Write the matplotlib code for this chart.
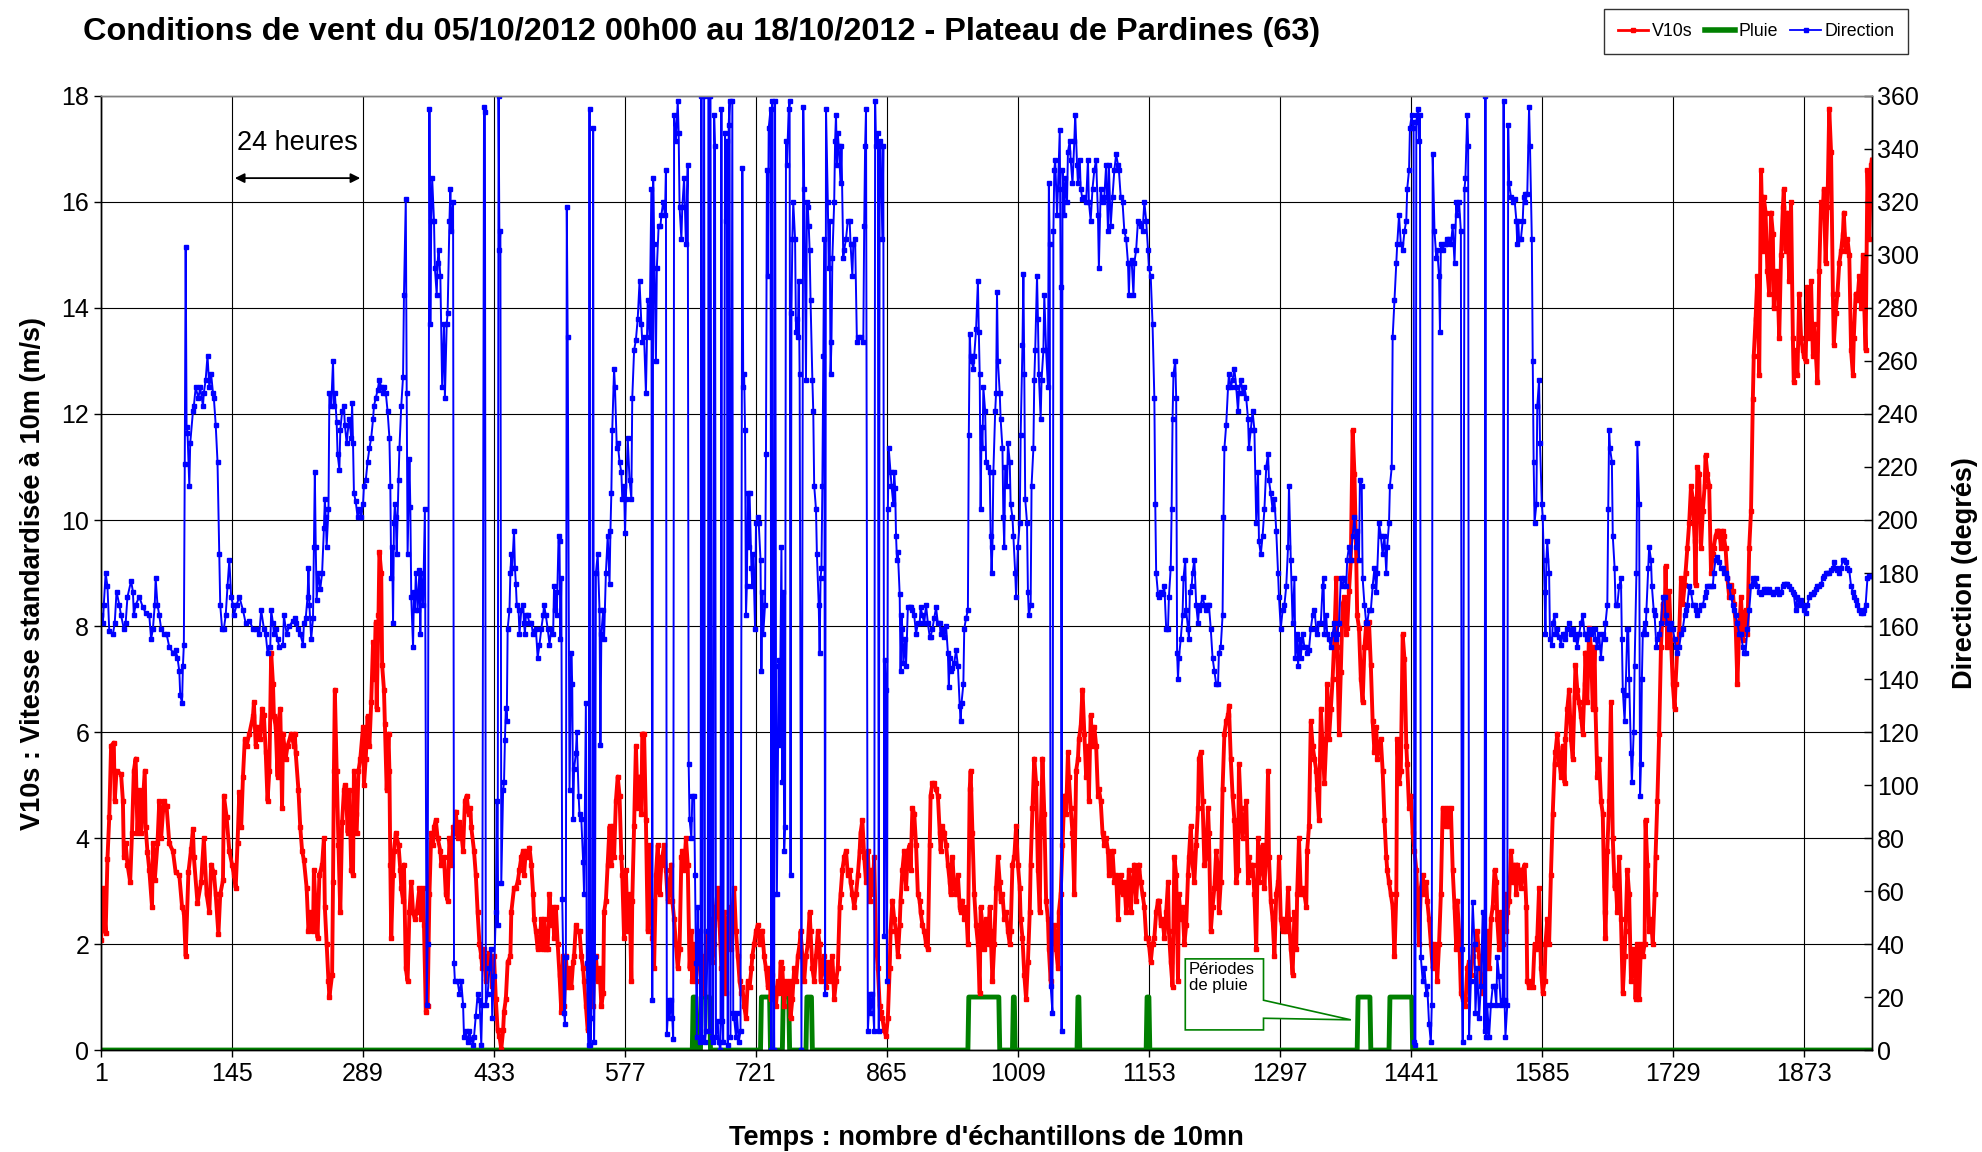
import numpy as np
import matplotlib
matplotlib.use('Agg')
import matplotlib.pyplot as plt
from matplotlib.lines import Line2D
from matplotlib.patches import Polygon

plt.rcParams['font.family'] = ['Liberation Sans', 'DejaVu Sans']

N = 1948  # nombre d'échantillons de 10 mn

# V10s (m/s) : (n° échantillon, vitesse)
v10_pts = [
    (1, 2.07), (3, 3.05), (6, 2.2), (8, 3.6), (10, 4.4), (12, 5.74), (15, 5.8), (16, 4.7), (18, 5.27), (23, 5.2),
    (25, 4.7), (26, 3.65), (28, 3.9), (30, 3.5), (33, 3.17), (35, 4.1), (37, 5.27), (39, 5.5), (41, 4.1), (43, 4.9),
    (45, 4.1), (49, 5.27), (50, 4.2), (52, 3.74), (54, 3.4), (57, 2.7), (58, 3.9), (60, 3.2), (63, 3.9), (65, 4.7),
    (67, 4.0), (70, 4.7), (73, 4.6), (76, 3.9), (80, 3.75), (83, 3.35), (87, 3.3), (90, 2.7), (92, 2.6), (94, 1.77),
    (97, 3.35), (100, 3.8), (102, 4.17), (103, 3.64), (107, 2.77), (111, 3.17), (114, 4.0), (117, 2.94), (120, 2.6),
    (122, 3.5), (125, 3.35), (127, 2.94), (130, 2.18), (132, 2.94), (135, 3.2), (136, 4.8), (139, 4.4), (142, 3.75),
    (145, 3.5), (147, 3.3), (149, 3.06), (151, 3.9), (153, 4.87), (155, 4.2), (157, 5.16), (159, 5.86), (161, 5.74),
    (164, 5.97), (168, 6.3), (169, 6.56), (171, 5.74), (173, 6.1), (176, 5.86), (178, 6.44), (180, 6.32), (182, 5.62),
    (184, 4.7), (186, 5.27), (188, 7.5), (190, 6.9), (191, 6.3), (193, 6.1), (195, 5.16), (196, 6.2), (198, 6.44),
    (200, 4.57), (201, 5.97), (204, 5.5), (206, 5.74), (210, 5.97), (213, 5.74),
    (214, 5.97), (215, 5.6), (218, 4.9), (220, 4.2), (222, 3.76), (224, 3.58), (227, 3.06), (229, 2.24), (231, 2.6),
    (234, 2.24), (235, 3.4), (237, 2.6), (239, 2.12), (241, 3.3), (244, 3.5), (246, 4.0), (247, 2.7), (249, 2.0),
    (251, 1.3), (252, 1.0), (255, 1.42), (256, 3.17), (257, 5.27), (258, 6.8), (260, 5.27), (262, 3.87), (264, 2.6),
    (266, 4.3), (268, 4.9), (269, 5.0), (271, 4.6), (272, 4.1), (274, 4.9), (276, 3.4), (278, 3.3), (279, 5.27),
    (281, 4.46), (282, 4.1), (284, 5.27), (286, 5.5), (289, 6.1), (290, 5.0), (292, 5.5), (294, 6.3), (296, 5.74),
    (298, 6.56), (300, 7.7), (301, 7.0), (303, 8.07), (304, 6.44), (306, 8.2), (307, 9.4), (309, 9.0), (310, 7.26),
    (312, 6.8), (313, 6.15), (315, 4.9), (317, 5.97), (318, 5.27), (319, 3.5), (320, 2.12), (322, 3.3), (323, 3.76),
    (325, 4.1), (328, 3.87), (330, 3.4), (331, 3.06), (333, 2.82), (334, 3.5), (336, 1.54), (338, 1.3), (340, 2.6),
    (342, 3.17), (344, 2.6), (346, 2.47), (348, 2.6), (351, 3.06), (353, 2.47), (355, 3.06), (356, 2.36), (358, 0.72),
    (360, 0.84), (362, 2.94), (364, 4.1), (366, 3.87), (367, 4.2), (369, 4.34), (371, 4.0), (374, 3.76), (375, 3.5),
    (378, 3.64), (380, 2.94), (382, 2.82), (384, 4.0), (386, 3.5), (388, 4.2), (389, 4.1), (391, 4.5), (393, 4.0),
    (395, 4.3), (397, 4.1), (399, 3.76), (401, 4.7), (403, 4.8), (405, 4.46), (407, 4.57), (408, 4.2), (411, 3.76),
    (413, 3.3), (415, 2.6), (417, 2.0), (419, 1.77), (420, 1.54), (422, 1.9), (424, 1.3), (426, 1.77), (428, 1.83),
    (430, 1.66), (431, 1.2), (433, 1.77),
    (435, 0.96), (437, 0.37), (439, 0.26), (441, 0.02), (443, 0.37), (444, 0.72), (446, 0.96), (448, 1.66), (451, 1.77),
    (452, 2.6), (455, 3.06), (457, 3.06), (459, 3.17), (461, 3.4), (463, 3.64), (465, 3.76), (466, 3.3), (468, 3.76),
    (470, 3.64), (472, 3.82), (474, 3.5), (476, 2.94), (477, 2.47), (479, 2.24), (481, 1.9), (483, 2.0), (485, 2.47),
    (487, 1.9), (488, 2.47), (490, 1.9), (492, 1.9), (494, 2.94), (496, 2.36), (498, 2.7), (499, 2.12), (501, 2.7),
    (503, 2.0), (505, 1.42), (507, 0.72), (509, 1.77), (510, 0.84), (512, 1.77), (514, 1.19), (516, 1.54), (518, 1.19),
    (520, 1.66), (521, 1.77), (523, 2.36), (525, 2.24), (527, 2.24), (529, 1.77), (531, 1.54), (532, 1.3), (534, 0.84),
    (536, 0.37), (538, 0.6), (540, 1.19), (542, 0.84), (543, 1.54), (545, 1.77), (547, 1.3), (549, 1.54), (551, 0.84),
    (553, 1.07), (554, 2.6), (556, 2.82), (558, 3.5), (560, 4.22), (562, 3.5), (564, 4.22), (565, 3.64), (567, 4.7),
    (569, 5.16), (571, 4.8), (573, 3.64), (574, 3.3), (576, 2.12), (578, 3.4), (580, 2.24), (582, 2.94), (584, 1.3),
    (585, 2.82), (587, 4.22), (589, 5.74), (591, 4.57), (593, 5.16), (595, 4.46), (596, 5.97), (598, 5.97), (600, 4.34),
    (602, 2.24), (604, 3.87), (606, 2.82), (607, 2.12), (609, 1.54), (611, 3.3), (613, 3.87), (615, 2.94), (617, 3.5),
    (618, 3.64), (620, 3.87), (622, 3.4), (624, 2.82), (626, 3.06), (628, 3.5), (629, 2.82), (631, 2.47), (633, 2.0),
    (635, 1.54), (637, 1.9), (639, 3.64), (640, 3.76), (642, 3.4), (644, 4.0), (646, 3.5), (648, 1.54), (650, 2.24),
    (651, 1.3),
    (653, 2.0), (655, 1.3), (657, 1.66), (659, 2.24), (661, 1.54), (662, 1.77), (664, 1.07), (666, 2.0), (668, 2.24),
    (670, 1.77), (672, 2.47), (673, 1.66), (675, 2.0), (677, 2.7), (679, 3.06), (681, 2.36), (683, 1.54), (684, 1.9),
    (686, 2.6), (688, 1.07), (690, 2.47), (692, 2.7), (694, 1.9), (695, 2.6), (697, 3.06), (699, 2.24), (701, 1.77),
    (703, 1.3), (705, 1.07), (706, 1.19), (708, 0.84), (710, 0.6), (712, 1.3), (714, 1.19), (716, 1.54), (717, 1.77),
    (719, 2.0), (721, 2.24), (723, 2.36), (725, 2.0), (727, 2.24), (728, 2.24), (730, 1.77), (732, 1.54), (734, 1.19),
    (736, 1.54), (737, 0.96), (739, 1.42), (741, 1.07), (743, 0.84), (745, 1.3), (747, 1.07), (748, 1.66), (750, 1.54),
    (752, 0.84), (754, 1.3), (756, 1.07), (758, 1.3), (759, 0.6), (761, 0.96), (763, 1.54), (765, 1.3), (767, 1.77),
    (769, 2.0), (770, 2.24), (772, 1.77), (774, 1.3), (776, 1.77), (778, 2.0), (780, 2.6), (781, 2.24), (783, 1.54),
    (785, 1.3), (787, 1.77), (789, 2.24), (791, 2.0), (792, 1.3), (794, 1.54), (796, 1.77), (798, 1.19), (800, 1.66),
    (802, 1.3), (803, 1.54), (805, 1.77), (807, 0.96), (809, 1.3), (811, 1.54), (813, 2.7), (814, 2.94), (816, 3.4),
    (818, 3.64), (820, 3.76), (822, 3.3), (824, 3.4), (825, 3.17), (827, 2.94), (829, 2.7), (831, 2.94), (833, 3.3),
    (835, 3.76), (836, 4.1), (838, 4.34), (840, 3.64), (842, 3.17), (844, 3.76), (846, 2.82), (847, 3.4), (849, 2.94),
    (851, 3.64), (853, 2.0), (855, 1.54), (857, 0.84), (858, 0.72), (860, 0.6), (862, 0.37), (864, 0.26), (866, 0.6),
    (868, 1.54), (869, 2.24), (871, 2.82),
    (873, 2.47), (875, 2.24), (877, 1.77), (879, 2.36), (880, 2.82), (882, 3.4), (884, 3.76), (886, 3.06), (888, 3.76),
    (890, 3.87), (891, 3.4), (893, 4.57), (895, 4.46), (897, 3.87), (899, 2.94), (901, 2.82), (902, 2.6), (904, 2.36),
    (906, 2.24), (908, 2.0), (910, 1.9), (912, 3.87), (913, 4.8), (915, 5.04), (917, 5.04), (919, 4.92), (921, 4.8),
    (923, 4.1), (924, 3.76), (926, 4.22), (928, 4.1), (930, 3.87), (932, 3.5), (934, 3.17), (935, 2.94), (937, 3.64),
    (939, 3.06), (941, 2.94), (943, 3.3), (945, 2.7), (946, 2.6), (948, 2.82), (950, 2.47), (952, 2.7), (954, 2.0),
    (956, 4.92), (957, 5.27), (959, 4.1), (961, 2.94), (963, 2.36), (965, 2.0), (967, 1.07), (968, 2.7), (970, 2.36),
    (972, 1.9), (974, 2.47), (976, 2.0), (978, 2.7), (979, 2.24), (981, 1.3), (983, 2.0), (985, 3.06), (987, 3.64),
    (989, 3.17), (990, 2.82), (992, 2.94), (994, 2.47), (996, 2.6), (998, 2.24), (1000, 2.0), (1001, 2.24), (1003, 3.5),
    (1005, 3.64), (1007, 4.22), (1009, 3.5), (1011, 3.06), (1012, 2.47), (1014, 2.12), (1016, 1.42), (1018, 0.96),
    (1020, 1.66), (1022, 2.6), (1023, 3.5), (1025, 4.57), (1027, 5.5), (1029, 5.04), (1031, 3.4), (1033, 2.6),
    (1034, 4.1), (1036, 5.5), (1038, 4.46), (1040, 2.82), (1042, 2.47), (1043, 1.9), (1045, 1.3), (1047, 2.24),
    (1049, 2.36), (1051, 1.9), (1053, 1.54), (1054, 2.6), (1056, 2.94), (1058, 3.87), (1060, 4.8), (1062, 4.46),
    (1064, 5.62), (1065, 5.16), (1067, 4.57), (1069, 4.1), (1071, 2.94), (1073, 5.27), (1075, 5.5), (1076, 5.86),
    (1078, 6.1), (1080, 6.8), (1082, 5.97), (1084, 5.16), (1086, 5.74), (1087, 4.7), (1089, 6.32), (1091, 5.74),
    (1093, 6.1), (1095, 5.74), (1097, 4.8), (1098, 4.92), (1100, 4.7), (1102, 4.1), (1104, 3.87), (1106, 4.0),
    (1108, 3.76), (1109, 3.3), (1111, 3.4), (1113, 3.76), (1115, 3.17), (1117, 3.3), (1119, 2.47), (1120, 3.17),
    (1122, 3.3), (1124, 2.94), (1126, 3.17), (1128, 2.6), (1130, 3.06), (1131, 3.4), (1133, 2.6), (1135, 3.17),
    (1137, 3.5), (1139, 2.82), (1141, 3.4), (1142, 3.5), (1144, 3.17), (1146, 2.94), (1148, 2.7), (1150, 2.12),
    (1152, 2.12), (1153, 2.0), (1155, 1.66), (1157, 2.0), (1159, 2.12), (1161, 2.6), (1163, 2.82), (1164, 2.82),
    (1166, 2.36), (1168, 2.47), (1170, 2.12), (1172, 2.6), (1174, 3.17), (1175, 2.24), (1177, 1.66), (1179, 1.19),
    (1181, 3.64), (1183, 3.3), (1185, 1.3), (1186, 2.94), (1188, 2.47), (1190, 2.7), (1192, 2.0), (1194, 2.36),
    (1196, 3.3), (1197, 3.64), (1199, 4.22), (1201, 3.5), (1203, 3.17), (1205, 3.87), (1207, 4.57), (1208, 5.5),
    (1210, 5.62), (1212, 4.7), (1214, 3.5), (1216, 3.64), (1218, 4.57), (1219, 4.1), (1221, 2.24), (1223, 2.7),
    (1225, 3.06), (1227, 3.76), (1229, 3.4), (1230, 2.6), (1232, 3.17), (1234, 4.92), (1236, 5.97), (1238, 6.2),
    (1240, 6.32), (1241, 6.5), (1243, 5.5), (1245, 4.8), (1247, 4.34), (1249, 3.17), (1251, 3.4), (1252, 5.39),
    (1254, 4.57), (1256, 4.0), (1258, 4.34), (1260, 4.7), (1262, 3.17), (1263, 3.64), (1265, 3.3), (1267, 3.5),
    (1269, 2.94), (1271, 1.9), (1273, 4.0), (1274, 3.17), (1276, 3.4), (1278, 3.87), (1280, 3.06), (1282, 3.76),
    (1284, 5.27), (1285, 3.64), (1287, 2.82), (1289, 2.47), (1291, 1.77), (1293, 2.94), (1295, 3.17), (1296, 3.64),
    (1298, 2.47), (1300, 2.24), (1302, 2.47), (1304, 2.24), (1306, 3.06), (1307, 2.47), (1309, 1.9), (1311, 1.42),
    (1313, 2.6), (1315, 1.9), (1316, 2.94), (1318, 4.0), (1320, 2.94), (1322, 3.06), (1324, 2.94), (1326, 2.7),
    (1327, 3.76), (1329, 4.22), (1331, 6.2), (1333, 5.74), (1335, 5.5), (1337, 5.27), (1338, 4.92), (1340, 4.34),
    (1342, 6.44), (1344, 5.74), (1346, 5.04), (1348, 5.86), (1349, 6.9), (1351, 5.86), (1353, 6.44), (1355, 7.0),
    (1357, 7.84), (1359, 8.9), (1360, 7.6), (1362, 5.97), (1364, 7.14), (1366, 8.42), (1368, 8.54), (1370, 7.84),
    (1371, 7.96), (1373, 8.66), (1375, 9.24), (1377, 11.7), (1379, 10.87), (1381, 9.24), (1382, 8.2), (1384, 7.96),
    (1386, 7.0), (1388, 6.56), (1390, 7.6), (1392, 8.07), (1393, 7.6), (1395, 8.07), (1397, 7.26), (1399, 6.2),
    (1401, 5.62), (1403, 6.1), (1404, 5.5), (1406, 5.74), (1408, 5.86), (1410, 5.27), (1412, 4.34), (1414, 3.64),
    (1415, 3.4), (1417, 3.17), (1419, 2.94), (1421, 2.7), (1423, 1.77), (1425, 2.94), (1426, 5.86), (1428, 5.04),
    (1430, 5.27), (1432, 7.84), (1434, 7.38), (1436, 5.74), (1437, 5.39), (1439, 4.57), (1441, 4.8), (1443, 4.1),
    (1445, 3.76), (1447, 3.4), (1448, 2.94), (1450, 2.0), (1452, 3.06), (1454, 3.3), (1456, 2.94), (1458, 3.17),
    (1459, 2.82), (1461, 2.47), (1463, 2.0), (1465, 1.54), (1467, 2.0), (1469, 1.77), (1470, 1.3), (1472, 2.0),
    (1474, 2.94), (1476, 4.57), (1478, 4.46), (1480, 4.22), (1481, 4.57), (1483, 4.22), (1485, 4.57), (1487, 3.4),
    (1489, 2.7), (1491, 1.9), (1492, 2.82), (1494, 2.24), (1496, 1.07), (1498, 0.96), (1500, 0.96), (1501, 0.84),
    (1503, 1.54), (1505, 1.66), (1507, 1.42), (1509, 1.77), (1511, 2.0), (1512, 1.9), (1514, 2.24), (1516, 1.77),
    (1518, 1.3), (1520, 1.07), (1522, 1.54), (1523, 2.0), (1525, 2.24), (1527, 1.54), (1529, 2.47), (1531, 2.7),
    (1533, 3.4), (1535, 3.17), (1536, 2.47), (1538, 1.9), (1540, 2.6), (1542, 2.0), (1544, 2.94), (1546, 2.24),
    (1547, 2.6), (1549, 2.82), (1551, 3.76), (1553, 3.17), (1555, 3.5), (1557, 2.94), (1558, 3.5), (1560, 3.4),
    (1562, 3.06), (1564, 3.4), (1566, 3.5), (1568, 2.7), (1569, 1.3), (1571, 1.19), (1573, 1.3), (1575, 1.19),
    (1577, 2.0), (1579, 1.9), (1580, 2.12), (1582, 3.06), (1584, 1.54), (1586, 1.07), (1588, 1.3), (1589, 2.0),
    (1591, 2.47), (1593, 2.0), (1595, 3.3), (1597, 4.46), (1599, 5.39), (1600, 5.62), (1602, 5.97), (1604, 5.5),
    (1606, 5.16), (1608, 5.74), (1610, 5.04), (1611, 5.86), (1613, 6.44), (1615, 6.8), (1617, 5.86), (1619, 5.5),
    (1621, 6.67), (1622, 7.26), (1624, 6.8), (1626, 6.56), (1628, 6.3), (1630, 5.97), (1632, 6.9), (1633, 7.5),
    (1635, 6.56), (1637, 7.96), (1639, 7.6), (1641, 6.44), (1643, 7.6), (1644, 6.44), (1646, 5.16), (1648, 5.5),
    (1650, 4.7), (1652, 4.46), (1654, 2.6), (1655, 2.12), (1657, 3.76), (1659, 4.7), (1661, 6.56), (1663, 4.0),
    (1665, 3.06), (1666, 3.3), (1668, 2.6), (1670, 3.64), (1672, 2.47), (1674, 1.07), (1676, 1.77), (1677, 2.24),
    (1679, 3.4), (1681, 2.94), (1683, 1.3), (1685, 1.9), (1687, 1.77), (1688, 0.96), (1690, 2.0), (1692, 0.96),
    (1694, 2.0), (1696, 1.77), (1698, 2.0), (1699, 4.34), (1701, 3.5), (1703, 2.24), (1705, 2.47), (1707, 2.0),
    (1709, 2.94), (1710, 3.64), (1712, 4.7), (1714, 5.97), (1716, 7.6), (1718, 8.42), (1720, 8.07), (1721, 9.13),
    (1723, 7.6), (1725, 8.66), (1727, 7.73), (1729, 6.9), (1731, 6.44), (1732, 6.9), (1734, 7.6), (1736, 7.84),
    (1738, 8.9), (1740, 8.42), (1742, 8.77), (1743, 9.0), (1745, 9.47), (1747, 9.94), (1749, 10.64), (1751, 10.4),
    (1753, 9.6), (1754, 8.77), (1756, 11.0), (1758, 10.87), (1760, 9.47), (1762, 10.17), (1764, 10.64), (1765, 11.22),
    (1767, 10.87), (1769, 10.64), (1771, 9.0), (1773, 9.36), (1774, 9.47), (1776, 9.7), (1778, 9.8), (1780, 9.8),
    (1782, 9.47), (1784, 9.8), (1785, 9.7), (1787, 9.47), (1789, 8.9), (1791, 8.54), (1793, 8.77), (1795, 8.66),
    (1796, 8.42), (1798, 8.07), (1800, 6.9), (1802, 7.96), (1804, 8.54), (1806, 7.73), (1807, 8.07), (1809, 8.3),
    (1811, 7.84), (1813, 9.47), (1815, 10.17), (1817, 12.28), (1818, 13.1), (1820, 13.8), (1822, 14.6), (1824, 12.74),
    (1826, 16.6), (1828, 15.08), (1829, 16.1), (1831, 15.8), (1833, 14.7), (1835, 14.27), (1837, 15.8), (1839, 15.4),
    (1840, 14.0), (1842, 14.7), (1844, 14.6), (1846, 13.44), (1848, 15.0), (1850, 15.9), (1851, 16.24), (1853, 15.08),
    (1855, 15.8), (1857, 14.5), (1859, 16.0), (1861, 13.44), (1862, 12.6), (1864, 13.2), (1866, 12.74), (1868, 14.27),
    (1870, 13.44), (1872, 13.2), (1873, 13.1), (1875, 13.0), (1877, 14.4), (1879, 13.44), (1881, 14.5), (1883, 13.1),
    (1884, 13.7), (1886, 13.2), (1888, 12.6), (1890, 14.7), (1892, 16.0), (1894, 15.9), (1895, 16.24), (1897, 14.85),
    (1899, 15.9), (1901, 17.76), (1903, 16.94), (1905, 14.27), (1906, 13.3), (1908, 13.9), (1910, 14.27), (1912, 14.85),
    (1914, 15.08), (1916, 15.4), (1917, 15.8), (1919, 15.08), (1921, 15.3), (1923, 15.0), (1925, 13.2), (1927, 12.74),
    (1928, 13.44), (1930, 14.27), (1932, 14.15), (1934, 14.6), (1936, 14.0), (1938, 15.0), (1939, 14.27), (1941, 13.2),
    (1943, 16.6), (1945, 15.3), (1947, 16.7), (1948, 16.8),
]

# Direction (degrés) : (n° échantillon, direction)
dir_pts = [
    (1, 164), (3, 161), (4, 168), (6, 180), (8, 175), (10, 158), (14, 157), (16, 161), (18, 173), (21, 168), (23, 164),
    (26, 159), (28, 161), (30, 171), (34, 177), (36, 173), (37, 164), (39, 168), (43, 171), (47, 167), (50, 165),
    (54, 164), (56, 155), (58, 159), (60, 168), (61, 178), (63, 168), (65, 164), (67, 159), (70, 157), (73, 157),
    (76, 152), (80, 150), (83, 151), (85, 148), (87, 143), (88, 134), (90, 131), (91, 145), (92, 153), (93, 221),
    (94, 303), (95, 235), (96, 233), (98, 213), (99, 229), (102, 241), (103, 243), (105, 250), (108, 246), (110, 250),
    (113, 243), (114, 248), (116, 253), (118, 262), (120, 250), (122, 255), (124, 248), (125, 246), (127, 236),
    (129, 222), (131, 187), (132, 168), (134, 159), (136, 159), (138, 164), (140, 175), (142, 185), (144, 171),
    (146, 168), (147, 164), (150, 168), (153, 171), (157, 166), (160, 161), (164, 162), (168, 159), (171, 159),
    (175, 157), (177, 166), (180, 159), (182, 157), (184, 150), (187, 152), (188, 166), (190, 161), (191, 157),
    (193, 159), (195, 155), (197, 152), (201, 153), (202, 164), (205, 157), (208, 160), (212, 162),
    (214, 163), (215, 161), (217, 159), (220, 157), (223, 153), (224, 161), (226, 163), (228, 171), (229, 182),
    (230, 168), (232, 155), (234, 163), (235, 190), (236, 218), (237, 190), (238, 170), (240, 180), (242, 174),
    (244, 180), (246, 197), (247, 208), (248, 201), (249, 190), (251, 204), (252, 248), (254, 243), (256, 260),
    (257, 243), (258, 248), (260, 237), (261, 225), (263, 219), (264, 234), (266, 241), (268, 243), (269, 236),
    (271, 229), (273, 236), (274, 238), (276, 231), (277, 244), (278, 229), (279, 210), (281, 207), (283, 201),
    (285, 204), (287, 201), (289, 206), (290, 213), (292, 215), (294, 222), (296, 227), (298, 231), (300, 238),
    (301, 243), (303, 246), (305, 249), (307, 253), (309, 250), (311, 248), (312, 250), (314, 248), (316, 241),
    (318, 231), (319, 213), (320, 178), (321, 190), (322, 161), (323, 199), (324, 206), (325, 201), (326, 187),
    (328, 215), (329, 227), (331, 243), (333, 254), (334, 285), (336, 321), (337, 248), (338, 187), (340, 223),
    (341, 205), (342, 171), (344, 152), (345, 173), (346, 166), (347, 180), (349, 166), (351, 181), (352, 157),
    (353, 180), (355, 168), (357, 204), (359, 17), (360, 40), (362, 355), (363, 274), (364, 313), (365, 329),
    (367, 313), (368, 295), (370, 285), (371, 297), (372, 302), (374, 292), (376, 250), (378, 274), (379, 246),
    (381, 274), (382, 278), (384, 313), (385, 325), (386, 309), (388, 320), (389, 33), (390, 26), (393, 26),
    (395, 21), (397, 26), (399, 17), (400, 5), (402, 7), (404, 3), (406, 7), (408, 4), (410, 2), (411, 5), (413, 13),
    (415, 21), (417, 19), (419, 2), (420, 17), (422, 356), (423, 354), (424, 17), (426, 21), (428, 31), (430, 38),
    (431, 12), (433, 28),
    (435, 52), (436, 94), (437, 47), (438, 360), (439, 302), (440, 309), (441, 63), (443, 98), (444, 101), (445, 117),
    (446, 129), (447, 124), (448, 159), (450, 166), (451, 180), (452, 187), (453, 182), (455, 196), (456, 182),
    (457, 176), (458, 168), (460, 166), (461, 157), (463, 166), (465, 168), (466, 161), (467, 157), (468, 164),
    (470, 164), (472, 161), (474, 161), (476, 157), (477, 158), (479, 159), (481, 148), (483, 153), (485, 159),
    (487, 164), (488, 168), (490, 164), (492, 159), (494, 153), (496, 159), (498, 157), (499, 175), (500, 166),
    (501, 173), (502, 164), (504, 194), (505, 192), (506, 155), (507, 178), (508, 57), (510, 14), (511, 10), (512, 35),
    (513, 318), (514, 269), (516, 98), (518, 150), (519, 138), (520, 87), (521, 106), (523, 112), (524, 120),
    (526, 96), (527, 89), (529, 87), (531, 71), (532, 59), (534, 131), (535, 33), (537, 2), (538, 355), (539, 2),
    (540, 12), (541, 31), (542, 348), (543, 3), (544, 35), (545, 180), (547, 187), (549, 166), (550, 115), (551, 157),
    (553, 166), (554, 155), (556, 180), (558, 194), (560, 176), (561, 196), (562, 210), (563, 234), (565, 257),
    (566, 250), (568, 227), (569, 229), (571, 222), (573, 218), (574, 208), (576, 213), (577, 195), (578, 208),
    (580, 231), (582, 215), (584, 208), (585, 246), (587, 264), (589, 268), (591, 276), (593, 290), (595, 274),
    (596, 267), (598, 269), (600, 248), (602, 283), (604, 269), (606, 325), (607, 19), (608, 329), (609, 304),
    (611, 260), (612, 295), (614, 311), (616, 311), (617, 315), (619, 320), (621, 315), (622, 332), (623, 6),
    (625, 19), (626, 12), (628, 19), (629, 12), (630, 4), (631, 353), (633, 343), (635, 358), (636, 346), (637, 318),
    (639, 306), (640, 318), (642, 329), (644, 304), (646, 334), (647, 108), (648, 87), (650, 80), (651, 96),
    (653, 96), (654, 66), (655, 33), (656, 5), (657, 54), (658, 33), (659, 45), (660, 3), (661, 360), (662, 5),
    (664, 360), (665, 3), (666, 7), (668, 45), (669, 360), (670, 7), (671, 360), (673, 5), (674, 3), (675, 353),
    (676, 341), (677, 5), (679, 11), (680, 3), (682, 0), (683, 355), (684, 11), (685, 3), (687, 346), (688, 313),
    (689, 343), (690, 2), (691, 349), (692, 358), (693, 5), (695, 358), (696, 14), (697, 12), (699, 5), (700, 14),
    (702, 3), (704, 7), (706, 333), (707, 250), (708, 255), (709, 234), (710, 164), (711, 175), (712, 210), (713, 190),
    (714, 210), (716, 182), (717, 175), (718, 187), (720, 159), (721, 199), (723, 201), (724, 199), (726, 185),
    (727, 143), (728, 173), (729, 157), (731, 168), (732, 225), (733, 332), (734, 292), (735, 348), (737, 355),
    (738, 0), (739, 358), (740, 59), (741, 0), (742, 358), (743, 145), (744, 59), (746, 147), (747, 115), (749, 190),
    (750, 101), (751, 173), (752, 75), (753, 84), (754, 343), (755, 334), (757, 355), (758, 358), (759, 66),
    (760, 278), (761, 306), (762, 320), (764, 306), (765, 271), (766, 276), (767, 269), (768, 290), (769, 255),
    (771, 0), (773, 356), (774, 325), (776, 253), (777, 320), (778, 318), (779, 311), (780, 302), (781, 283),
    (783, 253), (784, 241), (785, 213), (787, 204), (788, 187), (790, 168), (791, 150), (792, 178), (793, 182),
    (794, 213), (795, 262), (796, 306), (797, 21), (798, 355), (800, 320), (801, 295), (802, 313), (803, 255),
    (804, 267), (805, 299), (807, 320), (808, 343), (809, 353), (810, 334), (811, 346), (812, 341), (814, 327),
    (815, 341), (817, 299), (818, 302), (820, 306), (822, 313), (824, 313), (825, 304), (827, 292), (828, 304),
    (830, 306), (832, 267), (833, 269), (836, 269), (839, 267), (840, 311), (841, 341), (842, 355), (844, 7), (846, 21),
    (847, 14), (849, 21), (851, 7), (852, 358), (853, 341), (855, 346), (856, 7), (857, 343), (858, 341), (860, 306),
    (861, 341), (862, 43), (863, 147), (864, 136), (865, 26), (866, 204), (867, 227), (869, 218), (870, 213),
    (872, 206),
    (873, 218), (874, 212), (875, 194), (876, 185), (877, 188), (879, 172), (880, 143), (881, 164), (882, 159),
    (883, 146), (885, 155), (886, 145), (888, 167), (890, 167), (891, 167), (893, 166), (895, 164), (897, 157),
    (899, 161), (901, 161), (902, 167), (904, 164), (906, 161), (908, 168), (910, 161), (912, 156), (913, 156),
    (915, 159), (917, 163), (919, 167), (921, 161), (923, 161), (924, 157), (926, 159), (928, 156), (930, 160),
    (932, 150), (933, 137), (934, 148), (935, 143), (937, 144), (939, 146), (941, 151), (943, 145), (945, 130),
    (946, 124), (947, 131), (949, 138), (950, 159), (952, 163), (954, 166), (955, 232), (956, 270), (957, 262),
    (958, 260), (960, 257), (961, 262), (963, 272), (965, 290), (966, 271), (967, 255), (968, 204), (969, 235),
    (970, 227), (971, 250), (973, 241), (974, 222), (976, 220), (978, 218), (979, 194), (980, 180), (981, 190),
    (982, 218), (984, 241), (985, 248), (986, 286), (987, 260), (989, 248), (990, 238), (992, 227), (993, 201),
    (994, 190), (995, 220), (997, 213), (998, 229), (1000, 222), (1001, 206), (1003, 201), (1004, 194), (1006, 180),
    (1007, 171), (1009, 190), (1011, 199), (1012, 232), (1014, 266), (1015, 293), (1016, 255), (1017, 208),
    (1019, 199), (1020, 173), (1021, 164), (1023, 168), (1024, 213), (1026, 227), (1027, 253), (1028, 264),
    (1030, 292), (1031, 276), (1032, 255), (1034, 238), (1035, 253), (1037, 264), (1038, 285), (1040, 264),
    (1042, 250), (1043, 327), (1044, 304), (1045, 24), (1047, 14), (1048, 309), (1049, 332), (1050, 336), (1052, 315),
    (1053, 325), (1055, 347), (1056, 288), (1057, 7), (1058, 332), (1059, 325), (1060, 315), (1061, 329), (1063, 320),
    (1064, 339), (1066, 343), (1067, 336), (1069, 327), (1071, 343), (1072, 353), (1074, 334), (1075, 327),
    (1077, 336), (1078, 325), (1080, 321), (1082, 322), (1084, 320), (1086, 336), (1087, 320), (1089, 313),
    (1091, 325),
    (1093, 332), (1095, 336), (1097, 315), (1098, 295), (1100, 325), (1102, 320), (1104, 322), (1106, 334),
    (1108, 309), (1109, 334), (1111, 311), (1113, 322), (1115, 332), (1117, 338), (1119, 334), (1120, 332),
    (1122, 322), (1124, 320), (1126, 309), (1128, 306), (1130, 297), (1131, 285), (1132, 297), (1134, 298),
    (1136, 285), (1137, 297), (1139, 302), (1141, 313), (1142, 312), (1144, 311), (1146, 309), (1148, 320),
    (1150, 313), (1152, 302), (1153, 295), (1155, 292), (1157, 274), (1159, 246), (1160, 206), (1161, 180),
    (1163, 172), (1164, 171), (1166, 173), (1168, 172), (1170, 175), (1172, 159), (1174, 159), (1175, 171),
    (1177, 182), (1178, 204), (1179, 238), (1180, 255), (1182, 260), (1183, 246), (1184, 150), (1185, 140),
    (1186, 148), (1188, 155), (1190, 164), (1191, 178), (1193, 185), (1194, 166), (1196, 159), (1197, 155),
    (1198, 173), (1200, 175), (1201, 180), (1203, 185), (1205, 168), (1207, 161), (1208, 166), (1210, 168),
    (1212, 171), (1214, 168), (1216, 166), (1218, 168), (1219, 168), (1221, 159), (1223, 148), (1225, 143),
    (1227, 138), (1229, 138), (1230, 150), (1232, 152), (1234, 164), (1235, 201), (1236, 227), (1238, 236),
    (1240, 250), (1241, 255), (1243, 250), (1245, 253), (1247, 257), (1249, 250), (1251, 241), (1252, 248),
    (1254, 253), (1256, 248), (1258, 250), (1260, 246), (1262, 238), (1263, 227), (1265, 234), (1267, 241),
    (1269, 234), (1271, 199), (1273, 218), (1274, 192), (1276, 187), (1278, 194), (1280, 204), (1282, 220),
    (1284, 225), (1285, 215), (1287, 210), (1289, 204), (1291, 208), (1293, 196), (1295, 180), (1296, 171),
    (1298, 159), (1300, 166), (1302, 168), (1304, 175), (1306, 190), (1307, 213), (1309, 185), (1311, 161),
    (1313, 178), (1314, 148), (1316, 157), (1317, 145), (1319, 155), (1320, 148), (1322, 157), (1324, 152),
    (1326, 152), (1327, 150), (1329, 151), (1331, 159), (1333, 164), (1335, 166), (1337, 159), (1338, 157),
    (1340, 161), (1342, 161), (1344, 175), (1345, 178), (1346, 157), (1348, 164), (1349, 157), (1351, 155),
    (1353, 152), (1355, 157), (1357, 161), (1359, 155), (1360, 157), (1362, 161), (1364, 178), (1366, 175),
    (1368, 178), (1370, 175), (1371, 185), (1373, 190), (1375, 185), (1377, 194), (1379, 201), (1381, 190),
    (1382, 196), (1384, 185), (1385, 215), (1387, 213), (1388, 178), (1390, 168), (1392, 161), (1393, 161),
    (1395, 166), (1397, 166), (1399, 175), (1401, 182), (1403, 173), (1404, 180), (1406, 199), (1408, 194),
    (1410, 187), (1412, 194), (1414, 180), (1415, 190), (1417, 199), (1418, 213), (1420, 220), (1421, 269),
    (1423, 283), (1425, 297), (1426, 304), (1428, 315), (1430, 304), (1432, 302), (1434, 309), (1436, 313),
    (1437, 325), (1439, 332), (1440, 348), (1442, 353), (1443, 348), (1444, 350), (1445, 3), (1446, 2), (1447, 350),
    (1448, 353), (1449, 355), (1450, 343), (1451, 353), (1452, 35), (1454, 26), (1456, 31), (1458, 21), (1459, 24),
    (1461, 10), (1463, 3), (1464, 17), (1465, 338), (1467, 309), (1469, 299), (1470, 302), (1472, 292), (1473, 271),
    (1474, 304), (1476, 302), (1478, 304), (1480, 304), (1481, 306), (1483, 306), (1485, 304), (1487, 311),
    (1489, 297), (1491, 320), (1492, 315), (1494, 320), (1496, 309), (1497, 38), (1498, 3), (1500, 325), (1501, 329),
    (1503, 353), (1504, 341), (1505, 5), (1507, 26), (1509, 56), (1511, 40), (1512, 14), (1514, 31), (1516, 12),
    (1518, 24), (1520, 52), (1522, 7), (1523, 360), (1524, 5), (1525, 17), (1527, 5), (1529, 17), (1531, 24),
    (1533, 24), (1535, 17), (1536, 35), (1538, 28), (1540, 17), (1542, 19), (1543, 358), (1544, 19), (1545, 5),
    (1547, 17), (1548, 349), (1549, 327), (1551, 322), (1553, 320), (1555, 321), (1557, 313), (1558, 304),
    (1559, 313), (1560, 306), (1562, 306), (1564, 313), (1565, 322), (1566, 320), (1567, 323), (1569, 323),
    (1571, 356), (1572, 341), (1574, 306), (1575, 260), (1576, 222), (1577, 199), (1579, 206), (1580, 243),
    (1582, 253), (1583, 229), (1585, 206), (1586, 201), (1588, 173), (1589, 157), (1590, 185), (1591, 192),
    (1593, 180), (1594, 155), (1596, 153), (1597, 161), (1599, 164), (1600, 157), (1602, 159), (1604, 156),
    (1606, 153), (1608, 157), (1610, 157), (1611, 155), (1613, 159), (1615, 161), (1617, 157), (1619, 159),
    (1621, 155), (1622, 157), (1624, 152), (1626, 157), (1628, 161), (1630, 164), (1632, 157), (1633, 157),
    (1635, 155), (1637, 159), (1639, 157), (1641, 159), (1643, 159), (1644, 155), (1646, 152), (1648, 157),
    (1650, 148), (1652, 157), (1654, 155), (1655, 161), (1657, 168), (1658, 204), (1659, 234), (1660, 227),
    (1662, 222), (1663, 194), (1665, 182), (1666, 168), (1668, 168), (1670, 175), (1672, 178), (1673, 155),
    (1674, 136), (1676, 124), (1677, 134), (1679, 159), (1680, 159), (1681, 140), (1683, 112), (1684, 101),
    (1686, 120), (1687, 145), (1689, 180), (1690, 229), (1692, 206), (1693, 96), (1694, 108), (1695, 140),
    (1696, 157), (1698, 161), (1699, 157), (1700, 166), (1702, 182), (1703, 190), (1705, 185), (1706, 175),
    (1708, 166), (1709, 164), (1711, 152), (1712, 155), (1714, 157), (1716, 161), (1718, 171), (1720, 171),
    (1721, 164), (1723, 161), (1725, 159), (1727, 161), (1729, 159), (1731, 155), (1732, 152), (1734, 150),
    (1736, 152), (1738, 157), (1740, 159), (1742, 164), (1743, 166), (1745, 168), (1747, 175), (1749, 173),
    (1751, 168),
    (1753, 168), (1754, 166), (1756, 164), (1758, 166), (1760, 168), (1762, 168), (1764, 171), (1765, 173),
    (1767, 175), (1769, 175), (1771, 175), (1773, 175), (1774, 180), (1776, 185), (1778, 186), (1780, 184),
    (1782, 182), (1784, 182), (1785, 180), (1787, 180), (1789, 178), (1791, 175), (1793, 171), (1795, 168),
    (1796, 166), (1798, 164), (1800, 161), (1802, 157), (1804, 157), (1806, 152), (1807, 150), (1809, 150),
    (1811, 159), (1813, 166), (1815, 175), (1817, 178), (1818, 176), (1820, 178), (1822, 175), (1824, 173),
    (1826, 172), (1828, 173), (1829, 174), (1831, 174), (1833, 173), (1835, 174), (1837, 173), (1839, 172),
    (1840, 173), (1842, 173), (1844, 174), (1846, 172), (1848, 173), (1850, 175), (1851, 176), (1853, 176),
    (1855, 176), (1857, 175), (1859, 174), (1861, 173), (1862, 172), (1864, 166), (1866, 171), (1868, 168),
    (1870, 170), (1872, 168), (1873, 166), (1875, 165), (1877, 168), (1879, 171), (1881, 172), (1883, 172),
    (1884, 173), (1886, 174), (1888, 175), (1890, 175), (1892, 176), (1894, 178), (1895, 179), (1897, 180),
    (1899, 180), (1901, 180), (1903, 181), (1905, 182), (1906, 184), (1908, 182), (1910, 181), (1912, 180),
    (1914, 182), (1916, 185), (1917, 185), (1919, 184), (1921, 182), (1923, 181), (1925, 175), (1927, 173),
    (1928, 171), (1930, 170), (1932, 168), (1934, 166), (1936, 165), (1938, 165), (1939, 166), (1941, 168),
    (1943, 178), (1945, 179), (1947, 179), (1948, 179),
]

# périodes de pluie (premier et dernier échantillon à 1)
rain_periods = [(652, 655), (661, 670), (727, 736), (751, 757), (777, 782), (955, 988),
                (1004, 1005), (1075, 1076), (1151, 1153), (1383, 1396), (1418, 1442)]

xticks = list(range(1, N, 144))

v10_t, v10 = zip(*v10_pts)
dir_t, direction = zip(*dir_pts)
samples = np.arange(1, N + 1)
rain = np.zeros(N)
for a, b in rain_periods:
    rain[a - 1:b] = 1

fig = plt.figure(figsize=(19.82, 11.52), dpi=100)
ax = fig.add_axes([0.051, 0.0885, 0.8935, 0.8282])
ax2 = ax.twinx()

ax.plot(v10_t, v10, color='#FF0000', lw=2.8, marker='s', ms=2.5, zorder=3)
ax.plot(samples, rain, color='#008000', lw=3.5, zorder=2)
ax2.plot(dir_t, direction, color='#0000FF', lw=1.4, marker='s', ms=2.6)

ax.set_xlim(1, N)
ax.set_ylim(0, 18)
ax2.set_ylim(0, 360)
ax.set_xticks(xticks)
ax.set_yticks(range(0, 19, 2))
ax2.set_yticks(range(0, 361, 20))
ax.grid(True, color='black', lw=0.8)
ax.set_axisbelow(True)
ax.tick_params(labelsize=18, length=5, width=1)
ax2.tick_params(labelsize=18, direction='in', length=6, width=1)
for a in (ax, ax2):
    for s in a.spines.values():
        s.set_linewidth(1)
ax.spines['top'].set_color('#808080')
ax2.spines['top'].set_color('#808080')

ax.set_xlabel("Temps : nombre d'échantillons de 10mn", fontsize=19.5, fontweight='bold', labelpad=28)
ax.set_ylabel('V10s : Vitesse standardisée à 10m (m/s)', fontsize=19.5, fontweight='bold', labelpad=11)
ax2.set_ylabel('Direction (degrés)', fontsize=19.5, fontweight='bold', labelpad=24)

fig.text(0.042, 0.972, 'Conditions de vent du 05/10/2012 00h00 au 18/10/2012 - Plateau de Pardines (63)',
         fontsize=23.4, fontweight='bold', va='center', ha='left')

# flèche "24 heures"
ax.annotate('', xy=(145, 16.45), xytext=(289, 16.45),
            arrowprops=dict(arrowstyle='<|-|>', color='black', lw=1.3, mutation_scale=14))
ax.text(217, 17.12, '24 heures', fontsize=19.5, ha='center', va='center')

# bulle "Périodes de pluie"
callout = Polygon([(1193, 1.72), (1279, 1.72), (1279, 0.94), (1375, 0.57), (1279, 0.6),
                   (1279, 0.38), (1193, 0.38)], closed=True, facecolor='white',
                  edgecolor='#008000', lw=1.2, zorder=5)
ax.add_patch(callout)
ax.text(1197, 1.66, 'Périodes\nde pluie', fontsize=12, va='top', ha='left', zorder=6, linespacing=1.1)

handles = [Line2D([], [], color='#FF0000', lw=2, marker='s', ms=3),
           Line2D([], [], color='#008000', lw=4),
           Line2D([], [], color='#0000FF', lw=1.3, marker='s', ms=3)]
leg = fig.legend(handles, ['V10s', 'Pluie', 'Direction'], loc='center', bbox_to_anchor=(0.886, 0.9726),
                 ncol=3, fontsize=12.8, frameon=True, fancybox=False, handlelength=1.7,
                 handletextpad=0.2, columnspacing=0.7, borderpad=0.8)
leg.get_frame().set_edgecolor('black')
leg.get_frame().set_linewidth(1)

fig.savefig('out.png', dpi=100)
